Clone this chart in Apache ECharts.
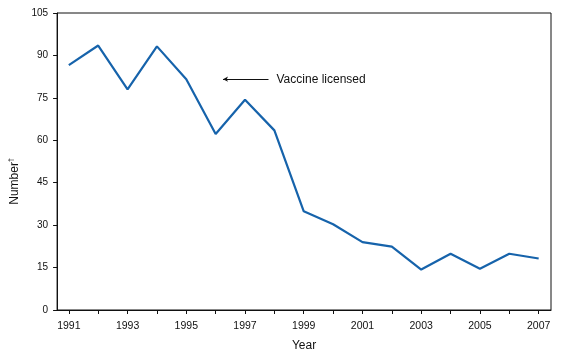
<!DOCTYPE html>
<html>
<head>
<meta charset="utf-8">
<script src="https://cdn.jsdelivr.net/npm/echarts@6/dist/echarts.min.js"></script>
<style>html,body{margin:0;padding:0;background:#fff;}#c{width:564px;height:362px;}</style>
</head>
<body>
<div id="c"></div>
<script>
const years = [1991,1992,1993,1994,1995,1996,1997,1998,1999,2000,2001,2002,2003,2004,2005,2006,2007];
const values = [86.6,93.5,78.0,93.2,81.6,62.2,74.3,63.5,34.9,30.3,24.0,22.4,14.3,19.9,14.6,19.9,18.2];
const yTicks = [0,15,30,45,60,75,90,105];
const xLabelYears = [1991,1993,1995,1997,1999,2001,2003,2005,2007];
const annotationText = 'Vaccine licensed';
const annotationFrom = [1997.8, 81.6];
const annotationTo = [1996.25, 81.6];

const chart = echarts.init(document.getElementById('c'), null, {renderer:'canvas'});
const font = 'Liberation Sans, Arial, Helvetica, sans-serif';
chart.setOption({
  animation:false,
  backgroundColor:'#fff',
  grid:{left:55, right:13, top:13, bottom:52, show:true, borderColor:'#111', borderWidth:1},
  xAxis:{
    type:'value', min:1990.6, max:2007.42,
    name:'Year', nameLocation:'middle', nameGap:30,
    nameTextStyle:{fontFamily:font, fontSize:12, color:'#111'},
    axisLine:{show:true, lineStyle:{color:'#111', width:1}},
    axisTick:{show:true, inside:false, length:4, lineStyle:{color:'#111'}, customValues:years},
    axisLabel:{fontFamily:font, fontSize:10.5, color:'#111', margin:11, customValues:xLabelYears, formatter:v=>String(v)},
    splitLine:{show:false}
  },
  yAxis:{
    type:'value', min:0, max:105, interval:15,
    name:'{a|Number}{s|\u2020}', nameLocation:'middle', nameGap:31, nameRotate:90,
    nameTextStyle:{fontFamily:font, fontSize:12, color:'#111', padding:[0,40,0,0],
      rich:{a:{fontFamily:font, fontSize:12, color:'#111'}, s:{fontFamily:font, fontSize:7, color:'#111', verticalAlign:'top', padding:[0,0,6,0]}}},
    axisLine:{show:true, lineStyle:{color:'#111', width:1}},
    axisTick:{show:true, inside:false, length:4, lineStyle:{color:'#111'}},
    axisLabel:{fontFamily:font, fontSize:10, color:'#111', margin:9},
    splitLine:{show:false}
  },
  series:[{
    type:'line',
    data:years.map((y,i)=>[y, values[i]]),
    showSymbol:false, symbol:'none',
    lineStyle:{color:'#1663ab', width:2.2},
    markLine:{
      silent:true, symbol:['none','arrow'], symbolSize:[4,5],
      lineStyle:{color:'#111', width:1, type:'solid'},
      label:{show:true, position:'start', distance:8, formatter:annotationText, fontFamily:font, fontSize:12, color:'#111', opacity:1},
      emphasis:{disabled:true},
      data:[[{coord:annotationFrom}, {coord:annotationTo}]]
    }
  }]
});
</script>
</body>
</html>
